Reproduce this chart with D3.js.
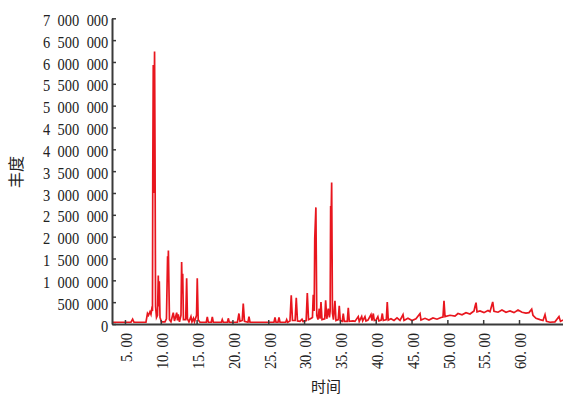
<!DOCTYPE html>
<html><head><meta charset="utf-8">
<script src="https://cdn.jsdelivr.net/npm/d3@7/dist/d3.min.js"></script>
<style>
html,body{margin:0;padding:0;background:#fff;}
svg{display:block;}
</style></head>
<body>
<svg id="chart" width="563" height="400"></svg>
<script>
// Retention time (min)
const retentionTime = [3.19,5.84,6.07,6.26,7.93,8.14,8.28,8.49,8.63,8.74,8.84,8.88,8.95,9.02,9.13,9.20,9.27,9.40,9.54,9.65,9.72,9.79,9.89,10.09,10.58,10.79,10.95,11.00,11.06,11.21,11.42,11.74,11.91,12.22,12.33,12.44,12.61,12.82,12.91,12.99,13.06,13.16,13.48,13.61,13.72,13.93,14.21,14.35,14.56,14.70,14.99,15.09,15.22,15.47,16.35,16.49,16.63,17.05,17.19,17.33,18.46,18.58,18.72,19.30,19.42,19.56,20.70,20.91,21.05,21.37,21.51,21.68,22.17,22.31,22.45,25.80,25.94,26.08,26.36,26.50,26.64,27.43,27.57,27.71,28.03,28.21,28.38,28.75,28.91,29.08,29.43,29.71,29.85,30.29,30.45,30.62,30.89,31.17,31.28,31.41,31.49,31.65,31.77,31.94,32.12,32.23,32.36,32.50,32.88,33.01,33.17,33.38,33.54,33.64,33.71,33.78,33.85,33.96,34.10,34.31,34.45,34.77,34.91,35.05,35.33,35.47,35.61,36.03,36.17,36.31,36.83,37.10,37.56,37.70,38.04,38.18,38.50,38.64,38.92,39.34,39.48,39.66,39.80,40.04,40.30,40.44,40.76,40.92,41.06,41.48,41.61,41.75,42.13,42.55,42.97,43.39,43.81,43.95,44.50,45.06,45.62,46.18,46.32,46.88,47.43,47.99,48.55,49.11,49.39,49.53,49.67,50.37,51.06,51.48,52.04,52.60,53.16,53.72,53.86,54.00,54.14,54.55,55.11,55.67,55.95,56.33,56.51,57.07,57.62,58.18,58.74,59.30,59.86,60.42,60.97,61.39,61.77,61.95,62.37,62.93,63.35,63.63,63.83,64.32,65.02,65.58,65.79,66.14];
// Abundance
const abundance = [40000,40000,110000,40000,40000,240000,200000,280000,220000,340000,300000,3400000,5930000,3000000,6240000,3700000,400000,150000,200000,1110000,400000,980000,150000,50000,50000,120000,1550000,1000000,1680000,100000,50000,260000,70000,260000,80000,220000,50000,200000,1420000,700000,1150000,100000,100000,1050000,120000,50000,170000,50000,130000,50000,200000,1050000,100000,40000,40000,160000,40000,40000,160000,40000,40000,100000,40000,40000,130000,40000,40000,240000,60000,80000,470000,60000,40000,170000,40000,40000,150000,40000,40000,150000,40000,40000,100000,40000,70000,660000,80000,80000,600000,70000,60000,110000,60000,80000,710000,100000,120000,150000,670000,300000,1950000,2670000,200000,100000,350000,120000,505000,100000,120000,540000,120000,350000,150000,300000,2700000,2500000,3240000,250000,100000,530000,80000,100000,415000,80000,60000,240000,60000,60000,370000,60000,70000,60000,170000,60000,170000,70000,170000,70000,90000,215000,80000,240000,80000,90000,170000,70000,90000,240000,80000,100000,505000,90000,120000,80000,140000,80000,215000,80000,130000,80000,120000,240000,90000,130000,90000,140000,110000,150000,160000,530000,170000,200000,180000,240000,210000,260000,230000,300000,400000,490000,280000,300000,260000,310000,280000,505000,290000,270000,320000,270000,300000,260000,320000,270000,250000,260000,340000,200000,130000,100000,80000,215000,60000,40000,50000,170000,60000,90000];

const yTickValues = [0,500000,1000000,1500000,2000000,2500000,3000000,3500000,4000000,4500000,5000000,5500000,6000000,6500000,7000000];
const yTickLabels = ["0","500 000","1 000 000","1 500 000","2 000 000","2 500 000","3 000 000","3 500 000","4 000 000","4 500 000","5 000 000","5 500 000","6 000 000","6 500 000","7 000 000"];
const xTickValues = [5,10,15,20,25,30,35,40,45,50,55,60];
const xTickLabels = ["5. 00","10. 00","15. 00","20. 00","25. 00","30. 00","35. 00","40. 00","45. 00","50. 00","55. 00","60. 00"];
const xTitle = "时间";
const yTitle = "丰度";

const svg = d3.select("#chart");
const mLeft = 112, mRight = 563, mTop = 18.3, mBottom = 324;

const x = d3.scaleLinear().domain([3.19, 66.14]).range([mLeft, mRight]);
const y = d3.scaleLinear().domain([0, 7000000]).range([mBottom, mTop]);

const serif = "'Liberation Serif','Times New Roman',serif";
const axisColor = "#3a3a3a";

// red trace
const pts = retentionTime.map((t,i)=>[t, abundance[i]]);
svg.append("path")
  .datum(pts)
  .attr("fill","none")
  .attr("stroke","#e8161e")
  .attr("stroke-width",1.7)
  .attr("stroke-linejoin","miter")
  .attr("d", d3.line().x(d=>x(d[0])).y(d=>y(d[1])));

// Y axis
const yAxis = d3.axisLeft(y).tickValues(yTickValues).tickSizeInner(-4).tickSizeOuter(0).tickFormat("");
const gy = svg.append("g").attr("transform",`translate(${mLeft},0)`).call(yAxis);
gy.select(".domain").attr("stroke",axisColor).attr("stroke-width",2);
gy.selectAll(".tick line").attr("stroke",axisColor).attr("stroke-width",1.5);

svg.append("g").selectAll("text").data(yTickValues).join("text")
  .attr("transform",d=>`translate(${mLeft-3.7},${y(d)+1.6}) scale(0.85,1)`)
  .attr("text-anchor","end")
  .attr("dy","0.35em")
  .style("font-family",serif)
  .style("font-size","17px")
  .style("word-spacing","4.5px")
  .attr("fill","#222")
  .text((d,i)=>yTickLabels[i]);

// X axis
const xAxis = d3.axisBottom(x).tickValues(xTickValues).tickSizeInner(-4).tickSizeOuter(0).tickFormat("");
const gx = svg.append("g").attr("transform",`translate(0,${mBottom})`).call(xAxis);
gx.select(".domain").attr("stroke",axisColor).attr("stroke-width",1.8);
gx.selectAll(".tick line").attr("stroke",axisColor).attr("stroke-width",1.5);

svg.append("g").selectAll("text").data(xTickValues).join("text")
  .attr("transform",d=>`translate(${x(d)+1.3},333) rotate(-90) scale(0.85,1)`)
  .attr("text-anchor","end")
  .attr("dy","0.35em")
  .style("font-family",serif)
  .style("font-size","17px")
  .attr("fill","#222")
  .text((d,i)=>xTickLabels[i]);

// titles
svg.append("text")
  .attr("x",326).attr("y",386.5)
  .attr("text-anchor","middle").attr("dy","0.35em")
  .style("font-family","'Noto Sans CJK SC',sans-serif")
  .style("font-size","15px").attr("fill","#222")
  .text(xTitle);

svg.append("text")
  .attr("transform","translate(16,172) rotate(-90)")
  .attr("text-anchor","middle").attr("dy","0.35em")
  .style("font-family","'Noto Sans CJK SC',sans-serif")
  .style("font-size","16px").attr("fill","#222")
  .text(yTitle);
</script>
</body></html>
